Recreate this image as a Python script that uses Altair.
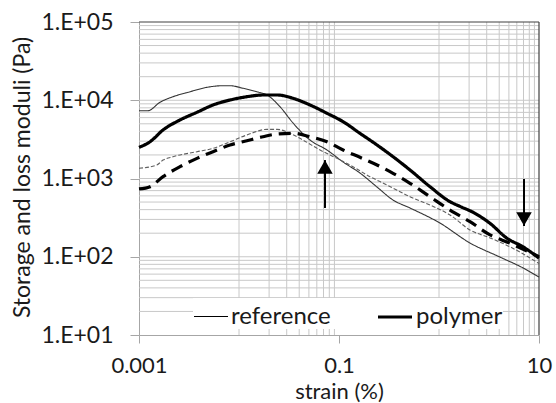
import altair as alt
import pandas as pd

# ---- data ----
ref_storage_strain = [0.001, 0.00123, 0.00162, 0.00219, 0.00324, 0.00479, 0.00692, 0.00813, 0.0110,
                      0.0151, 0.0191, 0.0257, 0.0347, 0.0513, 0.0759, 0.110, 0.162, 0.240, 0.347,
                      0.513, 1.02, 2.04, 4.07, 6.92, 10]
ref_storage_mod = [7350, 7350, 9420, 11100, 12850, 14630, 15350, 15350, 14220,
                   12850, 11670, 8270, 5120, 3100, 2310, 1625, 1175, 778, 531,
                   420, 270, 150, 99, 72, 55]

ref_loss_strain = [0.001, 0.00151, 0.00174, 0.00219, 0.0038, 0.0055, 0.00813, 0.012, 0.0191, 0.024,
                   0.0324, 0.0437, 0.0646, 0.0955, 0.138, 0.204, 0.302, 0.513, 0.813, 1.29,
                   2.04, 3.24, 5.13, 10]
ref_loss_mod = [1350, 1490, 1720, 1900, 2200, 2430, 2950, 3600, 4250, 4250,
                3780, 3100, 2310, 1810, 1415, 1055, 826, 585, 458, 342,
                220, 174, 134, 82]

pol_storage_strain = [0.001, 0.00129, 0.00174, 0.00257, 0.0038, 0.0055, 0.00813, 0.012, 0.0174, 0.024,
                      0.0347, 0.0513, 0.0759, 0.110, 0.162, 0.240, 0.347, 0.513, 0.813, 1.29,
                      1.62, 2.19, 3.24, 4.79, 6.92, 10]
pol_storage_mod = [2500, 2950, 4170, 5600, 7020, 8700, 10070, 11100, 11670, 11670,
                   10590, 8700, 6810, 5320, 3780, 2680, 1900, 1285, 785, 505,
                   440, 370, 267, 172, 134, 96]

pol_loss_strain = [0.001, 0.00129, 0.00174, 0.00257, 0.0038, 0.0055, 0.00813, 0.012, 0.0174, 0.024,
                   0.0347, 0.0513, 0.0759, 0.110, 0.162, 0.240, 0.347, 0.513, 0.813, 1.29,
                   2.04, 3.24, 5.13, 10]
pol_loss_mod = [735, 785, 1055, 1415, 1810, 2200, 2680, 3040, 3420, 3700,
                3780, 3420, 2950, 2310, 1865, 1490, 1165, 869, 585, 395,
                281, 190, 149, 100]

series_names = ["ref_storage", "ref_loss", "pol_storage", "pol_loss"]
materials = ["reference", "reference", "polymer", "polymer"]

x_ticks = [0.001, 0.1, 10]
y_ticks = [10, 100, 1000, 10000, 100000]
x_grid = [0.01, 0.02, 0.03, 0.04, 0.05, 0.06, 0.07, 0.08, 0.09,
          1, 2, 3, 4, 5, 6, 7, 8, 9]
y_grid = [20, 30, 40, 50, 60, 70, 80, 90,
          100, 200, 300, 400, 500, 600, 700, 800, 900,
          1000, 2000, 3000, 4000, 5000, 6000, 7000, 8000, 9000,
          10000, 20000, 30000, 40000, 50000, 60000, 70000, 80000, 90000]
x_max = [10]
y_max = [100000]

arrow_up_strain = [0.0724]
arrow_up_tail = [420]
arrow_up_tip = [1720]
arrow_down_strain = [7.08]
arrow_down_tail = [986]
arrow_down_tip = [247]

# ---- tables ----
rows = []
for name, mat, xs, ys in zip(series_names, materials,
                             [ref_storage_strain, ref_loss_strain, pol_storage_strain, pol_loss_strain],
                             [ref_storage_mod, ref_loss_mod, pol_storage_mod, pol_loss_mod]):
    for xv, yv in zip(xs, ys):
        rows.append({"strain": xv, "modulus": yv, "material": mat, "series": name})
df = pd.DataFrame(rows)

FONT = "Lato"
TXT = "#1a1a1a"
AX = "#a6a6a6"
GRID = "#c8c8c8"

xscale = alt.Scale(type="log", domain=[0.001, 10], nice=False)
yscale = alt.Scale(type="log", domain=[10, 100000], nice=False)

xaxis = alt.Axis(values=x_ticks, labelExpr="toString(datum.value)", grid=False,
                 domainColor=AX, tickColor=AX, tickSize=8, labelFlush=False, labelOverlap=False,
                 labelFont=FONT, labelFontSize=22, labelColor=TXT, labelPadding=12,
                 title="strain (%)", titleFont=FONT, titleFontSize=22, titleFontWeight="normal",
                 titleColor=TXT, titleX=200, titleY=63.5, titleBaseline="alphabetic", titleAlign="center")
yaxis = alt.Axis(values=y_ticks, labelExpr="'1.E+0' + round(log(datum.value) / LN10)", grid=False,
                 domainColor=AX, tickColor=AX, tickSize=9, labelFlush=False, labelOverlap=False,
                 labelFont=FONT, labelFontSize=23, labelColor=TXT, labelPadding=17,
                 title="Storage and loss moduli (Pa)", titleFont=FONT, titleFontSize=23,
                 titleFontWeight="normal", titleColor=TXT, titleX=-110, titleY=155,
                 titleBaseline="alphabetic", titleAlign="center", titleAngle=270)


def X(field="strain"):
    return alt.X(f"{field}:Q", scale=xscale, axis=xaxis)


def Y(field="modulus"):
    return alt.Y(f"{field}:Q", scale=yscale, axis=yaxis)


vgrid = alt.Chart(pd.DataFrame({"strain": x_grid})).mark_rule(color=GRID, strokeWidth=1).encode(x=X())
hgrid = alt.Chart(pd.DataFrame({"modulus": y_grid})).mark_rule(color=GRID, strokeWidth=1).encode(y=Y())
top_frame = alt.Chart(pd.DataFrame({"modulus": y_max})).mark_rule(color="#404040", strokeWidth=1.2).encode(y=Y())
right_frame = alt.Chart(pd.DataFrame({"strain": x_max})).mark_rule(color="#404040", strokeWidth=1.2).encode(x=X())

lines = alt.Chart(df).mark_line(interpolate="monotone").encode(
    x=X(),
    y=Y(),
    detail="series:N",
    color=alt.Color("series:N", scale=alt.Scale(domain=series_names,
                                                range=["#333333", "#606060", "#000000", "#000000"]),
                    legend=None),
    strokeDash=alt.StrokeDash("series:N", scale=alt.Scale(domain=series_names,
                                                          range=[[1, 0], [4, 2], [1, 0], [12, 7]]),
                              legend=None),
    strokeWidth=alt.StrokeWidth("material:N",
                                scale=alt.Scale(domain=["reference", "polymer"], range=[1.1, 3.2]),
                                legend=alt.Legend(title=None, orient="none", legendX=54, legendY=276,
                                                  direction="horizontal", symbolType="stroke",
                                                  symbolSize=1156, symbolStrokeColor="black",
                                                  labelFont=FONT, labelFontSize=24, labelColor=TXT,
                                                  labelOffset=2, columnPadding=40, fillColor="white",
                                                  padding=0)),
)

up_df = pd.DataFrame({"strain": arrow_up_strain, "modulus": arrow_up_tail, "tip": arrow_up_tip})
down_df = pd.DataFrame({"strain": arrow_down_strain, "modulus": arrow_down_tail, "tip": arrow_down_tip})

up_shaft = alt.Chart(up_df).mark_rule(color="black", strokeWidth=2).encode(x=X(), y=Y(), y2="tip:Q")
up_head = alt.Chart(up_df).mark_point(shape="triangle-up", filled=True, color="black", opacity=1,
                                      size=240, yOffset=7).encode(x=X(), y=Y("tip"))
down_shaft = alt.Chart(down_df).mark_rule(color="black", strokeWidth=2).encode(x=X(), y=Y(), y2="tip:Q")
down_head = alt.Chart(down_df).mark_point(shape="triangle-down", filled=True, color="black", opacity=1,
                                          size=240, yOffset=-7).encode(x=X(), y=Y("tip"))

chart = alt.layer(vgrid, hgrid, top_frame, right_frame, lines,
                  up_shaft, up_head, down_shaft, down_head).properties(
    width=400, height=313,
    autosize=alt.AutoSizeParams(type="none"),
    padding={"left": 139, "top": 22, "right": 17, "bottom": 68},
    background="white",
).configure_view(stroke=None)

chart.save("out.html", embed_options={"renderer": "svg", "actions": False})
